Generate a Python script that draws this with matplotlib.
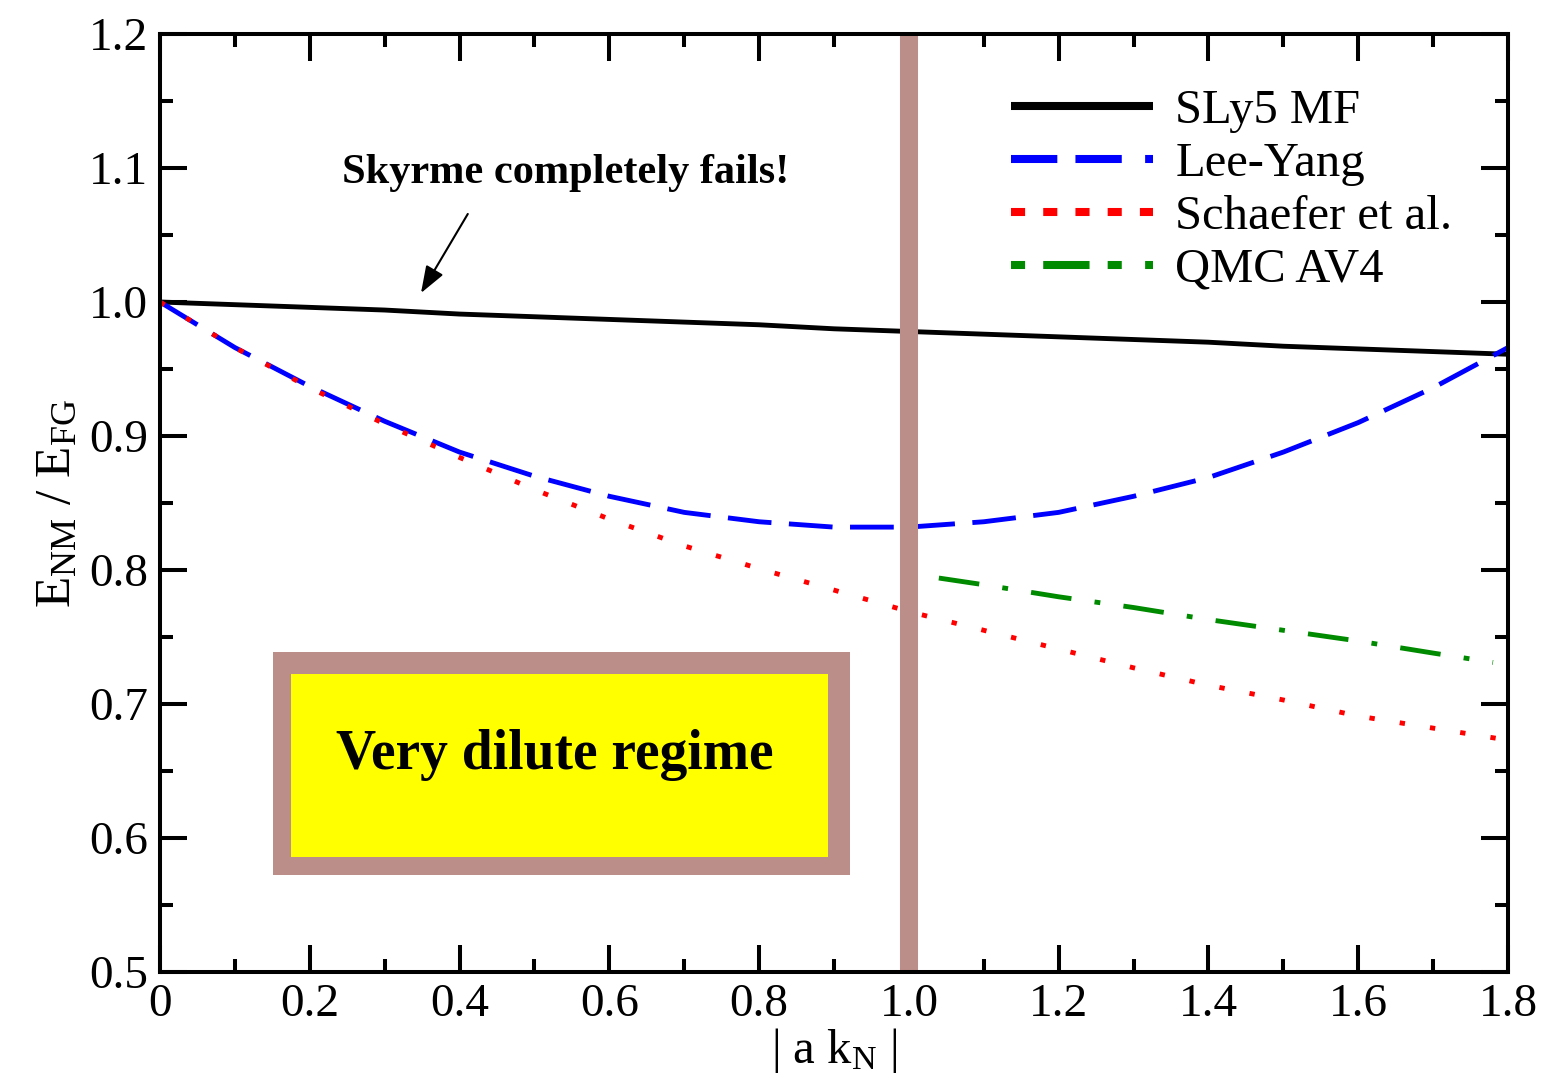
import matplotlib
matplotlib.use("Agg")
import matplotlib.pyplot as plt
from matplotlib.patches import Rectangle
from matplotlib.ticker import MultipleLocator

# ---------------- data ----------------
x_grid = [0.0, 0.1, 0.2, 0.3, 0.4, 0.5, 0.6, 0.7, 0.8, 0.9,
          1.0, 1.1, 1.2, 1.3, 1.4, 1.5, 1.6, 1.7, 1.8]
sly5_mf = [1.000, 0.998, 0.996, 0.994, 0.991, 0.989, 0.987, 0.985, 0.983, 0.980,
           0.978, 0.976, 0.974, 0.972, 0.970, 0.967, 0.965, 0.963, 0.961]
lee_yang = [1.000, 0.966, 0.937, 0.911, 0.888, 0.870, 0.855, 0.843, 0.836, 0.832,
            0.832, 0.836, 0.843, 0.855, 0.869, 0.888, 0.910, 0.936, 0.966]
schaefer = [1.000, 0.966, 0.936, 0.909, 0.884, 0.860, 0.838, 0.818, 0.801, 0.785,
            0.769, 0.755, 0.741, 0.727, 0.714, 0.703, 0.691, 0.682, 0.673]
qmc_x = [1.04, 1.1, 1.2, 1.3, 1.4, 1.5, 1.6, 1.7, 1.78]
qmc_av4 = [0.794, 0.789, 0.780, 0.772, 0.763, 0.755, 0.747, 0.738, 0.731]

series_labels = ["SLy5 MF", "Lee-Yang", "Schaefer et al.", "QMC AV4"]
xtick_values = [0.0, 0.2, 0.4, 0.6, 0.8, 1.0, 1.2, 1.4, 1.6, 1.8]
xtick_labels = ["0", "0.2", "0.4", "0.6", "0.8", "1.0", "1.2", "1.4", "1.6", "1.8"]
ytick_values = [0.5, 0.6, 0.7, 0.8, 0.9, 1.0, 1.1, 1.2]
ytick_labels = ["0.5", "0.6", "0.7", "0.8", "0.9", "1.0", "1.1", "1.2"]
dilute_limit = 1.0

# ---------------- style ----------------
plt.rcParams['font.family'] = ['Liberation Serif', 'DejaVu Serif']
plt.rcParams['mathtext.fontset'] = 'custom'
plt.rcParams['mathtext.rm'] = 'Liberation Serif'
plt.rcParams['mathtext.it'] = 'Liberation Serif:italic'
plt.rcParams['mathtext.bf'] = 'Liberation Serif:bold'

BROWN = '#bc8e8a'
BLUE = '#0000ff'
RED = '#ff0000'
GREEN = '#008a00'

fig = plt.figure(figsize=(15.46, 10.85), dpi=100)
ax = fig.add_axes([160 / 1546, 113 / 1085, 1348 / 1546, 938 / 1085])

lw = 3.5
ax.plot(x_grid, sly5_mf, color='black', lw=lw, solid_capstyle='butt', label=series_labels[0])
ax.plot(x_grid, lee_yang, color=BLUE, lw=lw, linestyle=(0, (9.0, 3.6)),
        dash_capstyle='butt', label=series_labels[1])
ax.plot(x_grid, schaefer, color=RED, lw=lw, linestyle=(0, (1.1, 5.2)),
        dash_capstyle='butt', label=series_labels[2])
ax.plot(qmc_x, qmc_av4, color=GREEN, lw=lw, linestyle=(0, (8.4, 4.8, 1.2, 4.8)),
        dash_capstyle='butt', label=series_labels[3])

ax.axvline(dilute_limit, color=BROWN, lw=13, zorder=5)

ax.set_xlim(0, 1.8)
ax.set_ylim(0.5, 1.2)
ax.set_xticks(xtick_values)
ax.set_xticklabels(xtick_labels)
ax.set_yticks(ytick_values)
ax.set_yticklabels(ytick_labels)
ax.xaxis.set_minor_locator(MultipleLocator(0.1))
ax.yaxis.set_minor_locator(MultipleLocator(0.05))
ax.tick_params(which='both', direction='in', top=True, right=True, width=2.9,
               labelsize=34, pad=8.5)
ax.tick_params(which='major', length=19.4)
ax.tick_params(which='minor', length=9.4)
for sp in ax.spines.values():
    sp.set_linewidth(2.9)
    sp.set_zorder(6)

ax.set_xlabel(r"| a k$_{\mathrm{N}}$ |", fontsize=35, labelpad=0)
ax.set_ylabel(r"E$_{\mathrm{NM}}$ / E$_{\mathrm{FG}}$", fontsize=37, labelpad=6)

leg = ax.legend(loc='upper left', bbox_to_anchor=(0.631, 0.941), frameon=False,
                fontsize=35, handlelength=2.92, handletextpad=0.47,
                labelspacing=0.18, borderpad=0, borderaxespad=0)
legend_styles = ['-', (0, (5.75, 2.25, 5.75, 2.9, 1.1, 3.0)),
                 (0, (1.75, 2.25)), (0, (1.75, 2.25, 5.75, 2.25, 1.75, 2.9, 1.1, 2.5))]
for line, st in zip(leg.get_lines(), legend_styles):
    line.set_linewidth(5.8)
    line.set_linestyle(st)

# annotation
ax.annotate('', xy=(0.3485, 1.0067), xytext=(0.411, 1.0657),
            arrowprops=dict(arrowstyle='-|>,head_length=0.55,head_width=0.2',
                            color='black', lw=1.5, shrinkA=0, shrinkB=0,
                            mutation_scale=30))
ax.text(0.541, 1.0888, "Skyrme completely fails!", fontsize=30.5, fontweight='bold',
        ha='center', va='baseline')

# box
ax.add_patch(Rectangle((0.0838, 0.1034), 0.428, 0.2377, transform=ax.transAxes,
                       facecolor=BROWN, edgecolor='none', zorder=3))
ax.add_patch(Rectangle((0.0972, 0.1226), 0.398, 0.195, transform=ax.transAxes,
                       facecolor='#ffff00', edgecolor='none', zorder=4))
ax.text(0.293, 0.2164, "Very dilute regime", transform=ax.transAxes, fontsize=40,
        fontweight='bold', ha='center', va='baseline', zorder=5)

fig.savefig("out.png", dpi=100)
